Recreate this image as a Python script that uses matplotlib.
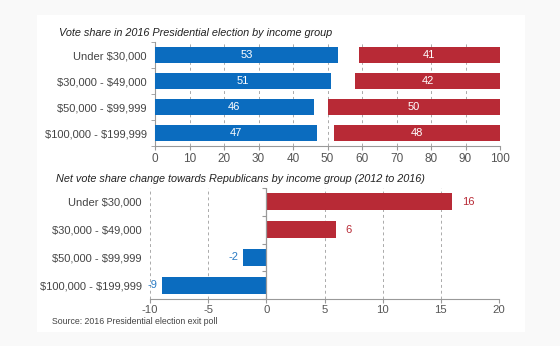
import numpy as np
import matplotlib.pyplot as plt
from matplotlib.patches import Rectangle

plt.rcParams['font.family'] = ['Liberation Sans', 'DejaVu Sans']
plt.rcParams['text.parse_math'] = False
plt.rcParams['axes.unicode_minus'] = False

groups = ['Under $30,000', '$30,000 - $49,000', '$50,000 - $99,999', '$100,000 - $199,999']
dem = [53, 51, 46, 47]
rep = [41, 42, 50, 48]
swing = [16, 6, -2, -9]

blue = '#0b6cbf'
red = '#b82a36'
grey = '#555555'
gridc = '#aaaaaa'

fig = plt.figure(figsize=(5.6, 3.46), dpi=100, facecolor='#f9f9f9')
# white card behind both charts
card = Rectangle((0.066, 0.04), 0.872, 0.917, transform=fig.transFigure,
                 facecolor='white', edgecolor='none', zorder=-5)
fig.add_artist(card)

y = np.arange(len(groups))

# top: vote share, dem from the left, rep from the right
ax1 = fig.add_axes([0.2768, 0.578, 0.6161, 0.3006])
ax1.set_facecolor('none')
ax1.barh(y, dem, height=0.65, color=blue, zorder=3)
ax1.barh(y, rep, left=[100 - r for r in rep], height=0.65, color=red, zorder=3)
for i in range(len(groups)):
    ax1.text(dem[i] / 2, i, str(dem[i]), color='white', ha='center', va='center', fontsize=8, zorder=4)
    ax1.text(100 - rep[i] / 2, i, str(rep[i]), color='white', ha='center', va='center', fontsize=8, zorder=4)
ax1.set_xlim(0, 100)
ax1.set_ylim(3.5, -0.5)
ax1.set_xticks(range(0, 101, 10))
ax1.set_yticks(y, groups)
ax1.set_yticks(np.arange(-0.5, 4, 1), minor=True)
ax1.xaxis.grid(True, color=gridc, ls=(0, (3, 3)), lw=0.7, zorder=0)
fig.text(0.105, 1 - 33 / 346, 'Vote share in 2016 Presidential election by income group',
         fontsize=7.8, style='italic', va='center', color='#222222')

# bottom: net change towards republicans
ax2 = fig.add_axes([0.2679, 0.1358, 0.6232, 0.3208])
ax2.set_facecolor('none')
cols = [red if v > 0 else blue for v in swing]
ax2.barh(y, swing, height=0.62, color=cols, zorder=3)
for i, v in enumerate(swing):
    if v > 0:
        ax2.text(v + 0.8, i, str(v), color=red, ha='left', va='center', fontsize=8)
    else:
        ax2.text(v - 0.4, i, str(v), color='#2a7bc4', ha='right', va='center', fontsize=8)
ax2.set_xlim(-10, 20)
ax2.set_ylim(3.5, -0.5)
ax2.set_xticks(range(-10, 21, 5))
ax2.set_yticks(y, groups)
ax2.xaxis.grid(True, color=gridc, ls=(0, (3, 3)), lw=0.7, zorder=0)
ax2.axvline(0, color='#999999', lw=0.9, zorder=4)
sec = ax2.secondary_yaxis(1 / 3)
sec.set_yticks(np.arange(-0.5, 4, 1))
sec.set_yticklabels([])
sec.spines['right'].set_visible(False)
sec.spines['left'].set_visible(False)
sec.tick_params(axis='y', length=3, color='#999999')
fig.text(0.1, 1 - 179 / 346, 'Net vote share change towards Republicans by income group (2012 to 2016)',
         fontsize=7.8, style='italic', va='center', color='#222222')

for ax in (ax1, ax2):
    ax.set_zorder(2)
    for s in ('top', 'right'):
        ax.spines[s].set_visible(False)
    ax.spines['bottom'].set_color('#999999')
    ax.spines['left'].set_color('#999999')
    ax.tick_params(axis='x', length=3, color='#999999', labelcolor=grey, labelsize=8.5, pad=2)
    ax.tick_params(axis='y', which='major', length=0, labelcolor='#444444', labelsize=8, pad=6)
    ax.tick_params(axis='y', which='minor', length=3, color='#999999')
ax2.spines['left'].set_visible(False)
ax2.tick_params(axis='x', labelsize=8.2, pad=1)

fig.text(0.093, 1 - 322 / 346, 'Source: 2016 Presidential election exit poll', fontsize=6.3,
         va='center', color='#444444')

fig.savefig('out.png', dpi=100, facecolor=fig.get_facecolor())
